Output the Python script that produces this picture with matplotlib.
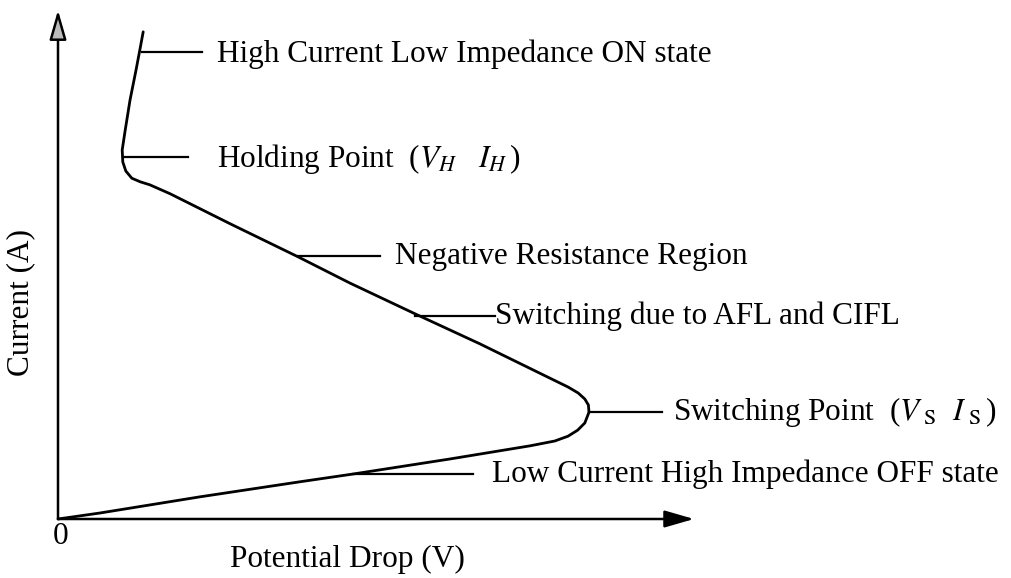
import matplotlib
matplotlib.use("Agg")
import matplotlib.pyplot as plt
from matplotlib.patches import FancyArrowPatch

plt.rcParams['font.family'] = ['Liberation Serif', 'DejaVu Serif']
plt.rcParams['mathtext.fontset'] = 'stix'

# S-shaped I-V curve (arbitrary units)
volts = [0.00, 0.70, 2.37, 4.03, 4.92, 6.53, 7.87, 8.28, 8.50, 8.66, 8.78, 8.85, 8.84,
         8.78, 8.67, 8.50, 8.03, 7.03, 5.95, 4.87, 4.00, 2.87, 1.87, 1.53, 1.37,
         1.23, 1.13, 1.08, 1.07, 1.12, 1.20, 1.30, 1.37, 1.42]
amps = [0.00, 0.10, 0.37, 0.62, 0.75, 1.00, 1.22, 1.30, 1.38, 1.48, 1.60, 1.78, 1.90,
        2.00, 2.10, 2.20, 2.43, 2.92, 3.42, 3.93, 4.37, 4.92, 5.42, 5.57, 5.62,
        5.68, 5.80, 5.95, 6.15, 6.48, 6.98, 7.48, 7.85, 8.12]

# labels: text, leader start (on curve), leader end, text start
labels = [
    ("High Current Low Impedance ON state", (1.40, 7.78), (2.40, 7.78), (2.65, 7.75)),
    (r"Holding Point  ($V_H\ \ \ I_H\,$)", (1.08, 6.03), (2.17, 6.03), (2.65, 6.00)),
    ("Negative Resistance Region", (4.00, 4.38), (5.37, 4.38), (5.62, 4.38)),
    ("Switching due to AFL and CIFL", (5.95, 3.38), (7.28, 3.38), (7.28, 3.38)),
    (r"Switching Point  ($V_{\ \rm S}\ \ I_{\ \rm S}\,$)", (8.85, 1.78), (10.07, 1.78), (10.25, 1.78)),
    ("Low Current High Impedance OFF state", (4.92, 0.75), (6.92, 0.75), (7.23, 0.75)),
]

v_max = 10.6
i_max = 8.48
px = 60.0  # pixels per unit
fs = 22.5

fig = plt.figure(figsize=(10.11, 5.78), dpi=100)
ax = fig.add_axes([0, 0, 1, 1])
ax.set_xlim(-58 / px, (1011 - 58) / px)
ax.set_ylim(-(578 - 519) / px, 519 / px)
ax.axis('off')

# axes with arrows
ax.add_patch(FancyArrowPatch((0, 0), (v_max, 0), arrowstyle='-|>,head_length=0.9,head_width=0.26',
                             mutation_scale=20, lw=1.8, color='black', shrinkA=0, shrinkB=0))
ax.add_patch(FancyArrowPatch((0, 0), (0, i_max), arrowstyle='-|>,head_length=0.9,head_width=0.26',
                             mutation_scale=20, lw=1.8, facecolor='#bbbbbb', edgecolor='black',
                             shrinkA=0, shrinkB=0))

ax.plot(volts, amps, color='black', lw=2.0, solid_capstyle='round', solid_joinstyle='round')

for txt, p0, p1, pt in labels:
    ax.plot([p0[0], p1[0]], [p0[1], p1[1]], color='black', lw=1.6)
    ax.text(pt[0], pt[1], txt, fontsize=fs, va='center', ha='left')

ax.text(0.05, -0.3, "0", fontsize=fs, ha='center', va='center')
ax.text(4.83, -0.68, "Potential Drop (V)", fontsize=fs, ha='center', va='center')
ax.text(-0.62, 3.6, "Current (A)", fontsize=fs, ha='center', va='center', rotation=90)

fig.savefig("out.png", dpi=100)
